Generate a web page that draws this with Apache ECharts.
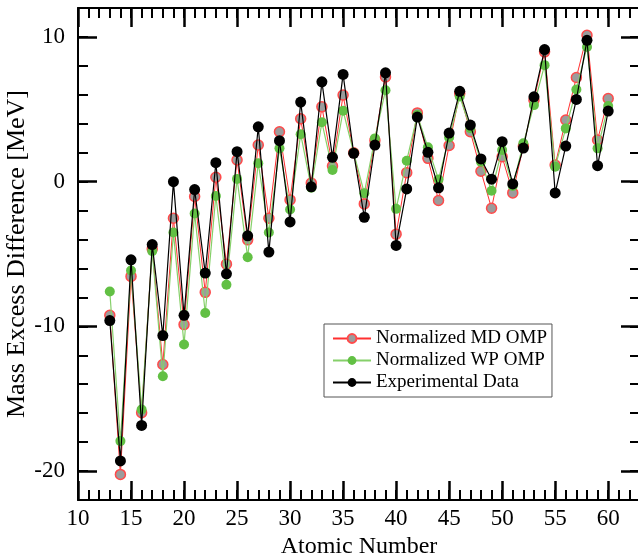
<!DOCTYPE html>
<html>
<head>
<meta charset="utf-8">
<script src="https://cdn.jsdelivr.net/npm/echarts@6/dist/echarts.min.js"></script>
<style>
html,body{margin:0;padding:0;background:#fff;}
#chart{width:638px;height:555px;}
</style>
</head>
<body>
<div id="chart"></div>
<script>
const atomicNumbers = [13,14,15,16,17,18,19,20,21,22,23,24,25,26,27,28,29,30,31,32,33,34,35,36,37,38,39,40,41,42,43,44,45,46,47,48,49,50,51,52,53,54,55,56,57,58,59,60];
const mdOmp = [-9.24,-20.23,-6.55,-15.97,-4.65,-12.64,-2.53,-9.88,-1.03,-7.65,0.30,-5.70,1.50,-4.02,2.53,-2.53,3.45,-1.26,4.35,-0.09,5.17,1.08,5.98,2.00,-1.54,2.85,7.24,-3.63,0.62,4.75,1.61,-1.30,2.50,6.10,3.45,0.72,-1.84,1.72,-0.78,2.45,5.63,8.97,1.15,4.26,7.20,10.12,2.88,5.75];
const wpOmp = [-7.59,-17.93,-6.14,-15.74,-4.80,-13.45,-3.52,-11.26,-2.20,-9.08,-0.99,-7.12,0.19,-5.22,1.27,-3.52,2.30,-1.93,3.28,-0.42,4.10,0.81,4.90,2.00,-0.80,2.99,6.32,-1.88,1.45,4.60,2.37,0.15,3.05,5.88,3.70,1.38,-0.63,2.19,-0.30,2.65,5.29,8.05,1.03,3.68,6.37,9.31,2.30,5.22];
const expData = [-9.60,-19.30,-5.40,-16.85,-4.35,-10.64,0.00,-9.24,-0.55,-6.32,1.31,-6.37,2.07,-3.74,3.79,-4.87,2.83,-2.78,5.50,-0.36,6.90,1.68,7.41,1.96,-2.46,2.53,7.52,-4.41,-0.50,4.46,2.03,-0.43,3.36,6.24,3.91,1.57,0.17,2.76,-0.16,2.32,5.86,9.13,-0.78,2.46,5.68,9.77,1.10,4.88];
const xTickLabels = [10,15,20,25,30,35,40,45,50,55,60];
const yTickLabels = [-20,-10,0,10];

const FONT = '"Liberation Serif", "Times New Roman", serif';
const pair = arr => atomicNumbers.map((z, i) => [z, arr[i]]);

const chart = echarts.init(document.getElementById('chart'), null, {renderer: 'canvas'});

function xAx(pos, major, labels) {
  return {
    type: 'value', position: pos, min: 10, max: 63, interval: major ? 5 : 1,
    gridIndex: 0,
    axisLine: {show: major, onZero: false, lineStyle: {color: '#000', width: 2}},
    axisTick: {show: true, inside: true, length: major ? 19 : 10, lineStyle: {color: '#000', width: major ? 2.5 : 2}},
    axisLabel: labels ? {
      show: true, margin: 7, color: '#000', fontFamily: FONT, fontSize: 23,
      formatter: v => xTickLabels.indexOf(v) >= 0 ? String(v) : ''
    } : {show: false},
    splitLine: {show: false},
    name: labels ? 'Atomic Number' : '',
    nameLocation: 'middle', nameGap: 30,
    nameTextStyle: {color: '#000', fontFamily: FONT, fontSize: 24}
  };
}
function yAx(pos, major, labels) {
  const ax = {
    type: 'value', position: pos, min: -22, max: 12, interval: 2,
    gridIndex: 0,
    axisLine: {show: major, onZero: false, lineStyle: {color: '#000', width: 2}},
    axisTick: {show: true, inside: true, length: major ? 19 : 10, lineStyle: {color: '#000', width: major ? 2.5 : 2}},
    axisLabel: labels ? {
      show: true, margin: 13, color: '#000', fontFamily: FONT, fontSize: 23,
      customValues: yTickLabels
    } : {show: false},
    splitLine: {show: false},
    name: labels ? 'Mass Excess Difference [MeV]' : '',
    nameLocation: 'middle', nameGap: 48, nameRotate: 90, nameMoveOverlap: false,
    nameTextStyle: {color: '#000', fontFamily: FONT, fontSize: 26}
  };
  if (major) ax.axisTick.customValues = yTickLabels;
  return ax;
}

const option = {
  animation: false,
  backgroundColor: '#fff',
  grid: {left: 78, top: 8, right: -2, bottom: 55, containLabel: false, outerBoundsMode: 'none'},
  xAxis: [xAx('bottom', true, true), xAx('bottom', false, false), xAx('top', true, false), xAx('top', false, false)],
  yAxis: [yAx('left', true, true), yAx('left', false, false), yAx('right', true, false), yAx('right', false, false)],
  legend: {
    orient: 'vertical', left: 324, top: 324,
    backgroundColor: '#fff', borderColor: '#555', borderWidth: 1,
    padding: [4, 5, 4, 8], itemGap: 1, itemWidth: 38, itemHeight: 11,
    textStyle: {color: '#000', fontFamily: FONT, fontSize: 19, lineHeight: 21},
    data: ['Normalized MD OMP', 'Normalized WP OMP', 'Experimental Data']
  },
  series: [
    {
      name: 'Normalized MD OMP', type: 'line', xAxisIndex: 0, yAxisIndex: 0,
      data: pair(mdOmp), symbol: 'circle', symbolSize: 10,
      lineStyle: {color: '#ff3030', width: 1},
      itemStyle: {color: '#9c9c9c', borderColor: '#ff4a4a', borderWidth: 1.5},
      z: 2
    },
    {
      name: 'Normalized WP OMP', type: 'line', xAxisIndex: 0, yAxisIndex: 0,
      data: pair(wpOmp), symbol: 'circle', symbolSize: 10,
      lineStyle: {color: '#86d06a', width: 1.2},
      itemStyle: {color: '#62c044', borderWidth: 0},
      z: 3
    },
    {
      name: 'Experimental Data', type: 'line', xAxisIndex: 0, yAxisIndex: 0,
      data: pair(expData), symbol: 'circle', symbolSize: 11,
      lineStyle: {color: '#000', width: 1.2},
      itemStyle: {color: '#000', borderWidth: 0},
      z: 4
    }
  ]
};
chart.setOption(option);
</script>
</body>
</html>
